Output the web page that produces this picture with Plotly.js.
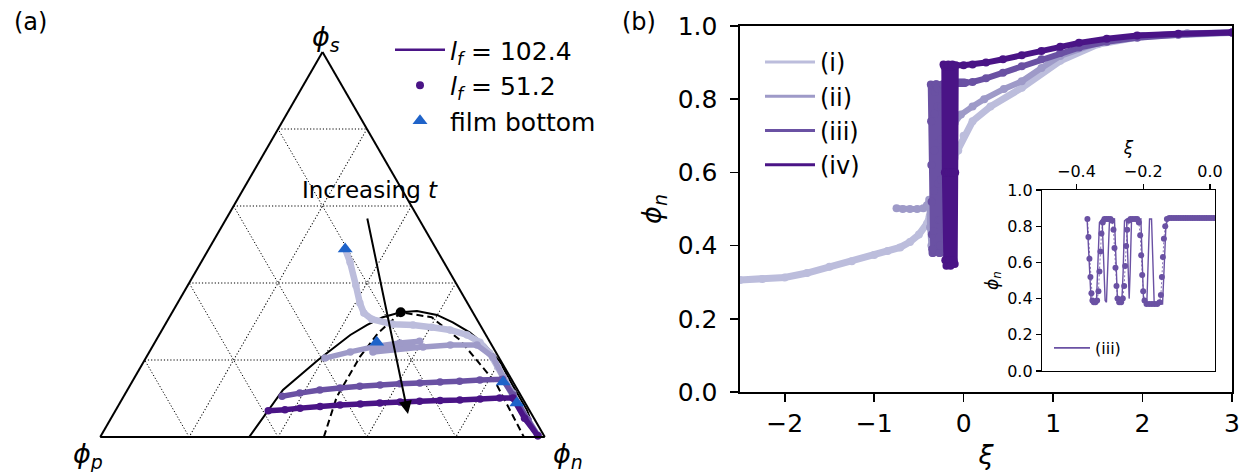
<!DOCTYPE html>
<html><head><meta charset="utf-8">
<script src="https://cdn.plot.ly/plotly-3.0.1.min.js"></script>
<style>html,body{margin:0;padding:0;background:#fff}</style>
</head><body>
<div id="chart" style="width:1243px;height:472px"></div>
<script>
// ---------- Panel (a): ternary compositions (phi_s, phi_n); phi_p = 1 - phi_s - phi_n ----------
const binodalS = [0, 0.122, 0.200, 0.265, 0.291, 0.311, 0.324, 0.327, 0.317, 0.298, 0.272, 0.239, 0.195, 0.135, 0.070, 0];
const binodalN = [0.335, 0.350, 0.390, 0.430, 0.455, 0.480, 0.514, 0.549, 0.599, 0.644, 0.695, 0.746, 0.802, 0.860, 0.925, 0.982];
const spinodalS = [0, 0.104, 0.208, 0.270, 0.311, 0.324, 0.311, 0.252, 0.140, 0];
const spinodalN = [0.503, 0.480, 0.480, 0.490, 0.509, 0.514, 0.590, 0.683, 0.820, 0.953];
const criticalS = [0.324];
const criticalN = [0.514];

const triS_i = [0.488, 0.454, 0.394, 0.348, 0.322, 0.306, 0.293, 0.291, 0.285, 0.278, 0.265, 0.246, 0.218, 0.182, 0.148, 0.096, 0.044, 0.005];
const triN_i = [0.307, 0.335, 0.378, 0.410, 0.432, 0.458, 0.511, 0.558, 0.603, 0.648, 0.693, 0.731, 0.767, 0.803, 0.836, 0.885, 0.940, 0.981];
const triS_ii = [0.205, 0.221, 0.236, 0.244, 0.249, 0.221, 0.234, 0.239, 0.239, 0.208, 0.156, 0.114, 0.044, 0.005];
const triN_ii = [0.403, 0.452, 0.504, 0.552, 0.594, 0.503, 0.609, 0.668, 0.728, 0.779, 0.828, 0.871, 0.940, 0.981];
const triS_iii = [0.106, 0.114, 0.122, 0.127, 0.132, 0.135, 0.138, 0.140, 0.143, 0.145, 0.148, 0.150, 0.109, 0.044, 0.003];
const triN_iii = [0.356, 0.392, 0.433, 0.476, 0.518, 0.562, 0.605, 0.649, 0.693, 0.736, 0.780, 0.830, 0.874, 0.940, 0.983];
const triS_iv = [0.068, 0.071, 0.075, 0.079, 0.083, 0.086, 0.088, 0.091, 0.093, 0.095, 0.096, 0.099, 0.101, 0.101, 0.049, 0.003];
const triN_iv = [0.344, 0.380, 0.412, 0.455, 0.498, 0.542, 0.585, 0.629, 0.672, 0.717, 0.761, 0.805, 0.848, 0.878, 0.930, 0.983];
const bottomS = [0.488, 0.246, 0.143, 0.088];
const bottomN = [0.307, 0.499, 0.835, 0.893];

// ---------- Panel (b): phi_n vs xi ----------
const xi_i = [-2.5, -2.25, -2.0, -1.75, -1.5, -1.25, -1.0, -0.85, -0.71, -0.6, -0.5, -0.41, -0.38, -0.3, -0.2, -0.1, -0.06, 0.0, 0.1, 0.3, 0.65, 1.08, 1.5, 2.0, 2.5, 3.0];
const phi_i = [0.306, 0.309, 0.313, 0.325, 0.342, 0.357, 0.374, 0.385, 0.395, 0.41, 0.43, 0.46, 0.48, 0.55, 0.60, 0.64, 0.66, 0.70, 0.74, 0.78, 0.831, 0.905, 0.95, 0.972, 0.979, 0.982];
const xi_ii = [-0.75, -0.68, -0.6, -0.52, -0.45, -0.41, -0.385, -0.375, -0.36, -0.33, -0.30, -0.26, -0.22, -0.17, -0.13, -0.1, -0.03, 0.1, 0.23, 0.45, 0.65, 0.87, 1.08, 1.5, 2.0, 2.5, 3.0];
const phi_ii = [0.502, 0.50, 0.50, 0.50, 0.502, 0.51, 0.525, 0.45, 0.40, 0.70, 0.42, 0.72, 0.42, 0.72, 0.45, 0.735, 0.758, 0.78, 0.80, 0.828, 0.849, 0.885, 0.918, 0.954, 0.973, 0.98, 0.982];
const xi_iii = [-0.368, -0.362, -0.356, -0.340, -0.336, -0.331, -0.323, -0.319, -0.314, -0.310, -0.306, -0.301, -0.286, -0.282, -0.277, -0.264, -0.260, -0.256, -0.250, -0.246, -0.242, -0.239, -0.235, -0.207, -0.203, -0.199, -0.189, -0.185, -0.181, -0.175, -0.171, -0.167, -0.142, -0.137, -0.132, -0.126, 0.0, 0.1, 0.25, 0.44, 0.65, 0.87, 1.08, 1.29, 1.6, 1.94, 2.4, 3.0];
const phi_iii = [0.84, 0.62, 0.39, 0.38, 0.55, 0.82, 0.84, 0.62, 0.39, 0.38, 0.55, 0.83, 0.84, 0.62, 0.39, 0.38, 0.55, 0.83, 0.84, 0.62, 0.40, 0.55, 0.83, 0.84, 0.62, 0.39, 0.38, 0.60, 0.84, 0.84, 0.60, 0.37, 0.37, 0.55, 0.80, 0.845, 0.845, 0.847, 0.857, 0.872, 0.89, 0.909, 0.926, 0.941, 0.957, 0.968, 0.976, 0.982];
const xiDots_iii = [-0.367, -0.364, -0.361, -0.358, -0.355, -0.352, -0.348, -0.343, -0.338, -0.334, -0.331, -0.328, -0.325, -0.321, -0.316, -0.310, -0.304, -0.298, -0.293, -0.289, -0.286, -0.283, -0.280, -0.277, -0.272, -0.266, -0.261, -0.257, -0.254, -0.251, -0.248, -0.244, -0.238, -0.231, -0.224, -0.218, -0.213, -0.209, -0.206, -0.203, -0.200, -0.196, -0.190, -0.182, -0.174, -0.166, -0.158, -0.151, -0.147, -0.144, -0.141, -0.138, -0.134, -0.129, -0.122, -0.115, -0.108, -0.101, -0.094, -0.087, -0.080, -0.073, -0.066, -0.059, -0.052, -0.045, -0.038, -0.031, -0.024, -0.017, -0.010, -0.003, 0.004, 0.011, 0.018, 0.1, 0.25, 0.44, 0.65, 0.87, 1.08, 1.29, 1.6, 1.94, 2.4, 3.0];
const phiDots_iii = [0.84, 0.74, 0.62, 0.52, 0.43, 0.39, 0.38, 0.38, 0.39, 0.44, 0.55, 0.66, 0.76, 0.82, 0.84, 0.84, 0.84, 0.84, 0.83, 0.78, 0.68, 0.57, 0.47, 0.40, 0.38, 0.38, 0.40, 0.47, 0.58, 0.69, 0.78, 0.83, 0.84, 0.84, 0.84, 0.84, 0.82, 0.75, 0.64, 0.53, 0.44, 0.39, 0.37, 0.37, 0.37, 0.37, 0.37, 0.38, 0.42, 0.52, 0.63, 0.73, 0.80, 0.84, 0.845, 0.845, 0.845, 0.845, 0.845, 0.845, 0.845, 0.845, 0.845, 0.845, 0.845, 0.845, 0.845, 0.845, 0.845, 0.845, 0.845, 0.845, 0.845, 0.845, 0.845, 0.847, 0.857, 0.872, 0.89, 0.909, 0.926, 0.941, 0.957, 0.968, 0.976, 0.982];
const xi_iv = [-0.225, -0.216, -0.210, -0.205, -0.192, -0.186, -0.180, -0.172, -0.166, -0.160, -0.146, -0.140, -0.134, -0.126, -0.120, -0.114, -0.100, -0.094, -0.088, 0.0, 0.1, 0.25, 0.44, 0.65, 0.87, 1.08, 1.29, 1.6, 1.94, 2.4, 3.0];
const phi_iv = [0.895, 0.89, 0.60, 0.36, 0.345, 0.60, 0.89, 0.895, 0.60, 0.36, 0.345, 0.60, 0.89, 0.895, 0.60, 0.36, 0.35, 0.60, 0.893, 0.893, 0.895, 0.90, 0.909, 0.92, 0.932, 0.943, 0.954, 0.965, 0.974, 0.979, 0.982];

const caseNames = ['(i)', '(ii)', '(iii)', '(iv)'];
const caseColors = ['#bcbddc', '#9e9ac8', '#6a51a3', '#4a1486'];
const bottomColor = '#1f63c9';
const cornerLabels = ['<i>ϕ</i><sub><i>s</i></sub>', '<i>ϕ</i><sub><i>p</i></sub>', '<i>ϕ</i><sub><i>n</i></sub>'];

// ---------- helpers ----------
const W = 1243, H = 472;
const px = v => v / W;
const py = v => 1 - v / H;
function tern(S, N, extra) {
  return Object.assign({
    type: 'scatterternary', subplot: 'ternary',
    a: S, b: S.map((s, k) => +(1 - s - N[k]).toFixed(4)), c: N,
    showlegend: false, hoverinfo: 'skip', cliponaxis: false
  }, extra);
}

const traces = [];
traces.push(tern(binodalS, binodalN, {mode: 'lines', line: {color: 'black', width: 2}}));
traces.push(tern(spinodalS, spinodalN, {mode: 'lines', line: {color: 'black', width: 2, dash: '7px,4px'}}));
const triS = [triS_i, triS_ii, triS_iii, triS_iv];
const triN = [triN_i, triN_ii, triN_iii, triN_iv];
for (let k = 0; k < 4; k++) {
  traces.push(tern(triS[k], triN[k], {mode: 'lines+markers', line: {color: caseColors[k], width: k === 0 ? 6.5 : 5.5}, marker: {color: caseColors[k], size: 7.5}}));
}
traces.push(tern(bottomS, bottomN, {mode: 'markers', marker: {symbol: 'triangle-up', color: bottomColor, size: 13}}));
traces.push(tern(criticalS, criticalN, {mode: 'markers', marker: {color: 'black', size: 10}}));

// panel (b) main
const xs = [xi_i, xi_ii, xi_iii, xi_iv];
const ys = [phi_i, phi_ii, phi_iii, phi_iv];
for (let k = 0; k < 4; k++) {
  traces.push({type: 'scatter', x: xs[k], y: ys[k], xaxis: 'x', yaxis: 'y', mode: k === 2 ? 'lines' : 'lines+markers',
    line: {color: caseColors[k], width: k === 0 ? 7 : 6}, marker: {color: caseColors[k], size: 8}, showlegend: false, hoverinfo: 'skip'});
  if (k === 2) {
    traces.push({type: 'scatter', x: xiDots_iii, y: phiDots_iii, xaxis: 'x', yaxis: 'y', mode: 'markers',
      marker: {color: caseColors[2], size: 8}, showlegend: false, hoverinfo: 'skip'});
  }
}
// inset
traces.push({type: 'scatter', x: xi_iii, y: phi_iii, xaxis: 'x2', yaxis: 'y2', mode: 'lines',
  line: {color: caseColors[2], width: 1.4}, showlegend: false, hoverinfo: 'skip'});
traces.push({type: 'scatter', x: xiDots_iii, y: phiDots_iii, xaxis: 'x2', yaxis: 'y2', mode: 'lines+markers',
  line: {color: caseColors[2], width: 0.8, dash: '2px,2px'}, marker: {color: caseColors[2], size: 6}, showlegend: false, hoverinfo: 'skip'});

// legend entries
traces.push({type: 'scatter', x: [null], y: [null], xaxis: 'x', yaxis: 'y', mode: 'lines', line: {color: caseColors[3], width: 2.5},
  name: '<i>l</i><sub><i>f</i></sub> = 102.4', legend: 'legend'});
traces.push({type: 'scatter', x: [null], y: [null], xaxis: 'x', yaxis: 'y', mode: 'markers', marker: {color: caseColors[3], size: 8},
  name: '<i>l</i><sub><i>f</i></sub> = 51.2', legend: 'legend'});
traces.push({type: 'scatter', x: [null], y: [null], xaxis: 'x', yaxis: 'y', mode: 'markers', marker: {color: bottomColor, size: 13, symbol: 'triangle-up'},
  name: 'film bottom', legend: 'legend'});
for (let k = 0; k < 4; k++) {
  traces.push({type: 'scatter', x: [null], y: [null], xaxis: 'x', yaxis: 'y', mode: 'lines', line: {color: caseColors[k], width: 3},
    name: caseNames[k], legend: 'legend2'});
}
traces.push({type: 'scatter', x: [null], y: [null], xaxis: 'x2', yaxis: 'y2', mode: 'lines', line: {color: caseColors[2], width: 1.6},
  name: caseNames[2], legend: 'legend3'});

const ternAxis = {
  title: {text: ''}, showticklabels: false, ticks: '', linecolor: 'black', linewidth: 2,
  showgrid: true, gridcolor: '#000', gridwidth: 1, griddash: '1.2px,2px', tick0: 0, dtick: 0.2, min: 0
};
const cartAxis = {ticks: 'outside', ticklen: 8, tickwidth: 1.6, linecolor: 'black', linewidth: 1.6, mirror: true,
  showgrid: false, zeroline: false, tickcolor: 'black'};

const ann = (text, x, y, size, extra) => Object.assign({text: text, xref: 'paper', yref: 'paper', x: px(x), y: py(y),
  xanchor: 'center', yanchor: 'middle', showarrow: false, font: {size: size}}, extra || {});

const layout = {
  width: W, height: H, margin: {l: 0, r: 0, t: 0, b: 0},
  paper_bgcolor: 'white', plot_bgcolor: 'white',
  font: {family: 'DejaVu Sans', color: 'black', size: 20},
  ternary: {
    domain: {x: [px(100), px(545)], y: [py(437), py(52)]}, sum: 1, bgcolor: 'white',
    aaxis: ternAxis, baxis: ternAxis, caxis: ternAxis
  },
  xaxis: Object.assign({}, cartAxis, {domain: [px(740), px(1232)], range: [-2.5, 3], anchor: 'y',
    tickvals: [-2, -1, 0, 1, 2, 3], tickfont: {size: 25}, ticklabelstandoff: 0,
    title: {text: '<i>ξ</i>', font: {size: 27}, standoff: 8}}),
  yaxis: Object.assign({}, cartAxis, {domain: [py(392), py(26)], range: [0, 1], anchor: 'x',
    tickvals: [0, 0.2, 0.4, 0.6, 0.8, 1.0], tickformat: '.1f', tickfont: {size: 25}, ticklabelstandoff: 8,
    title: {text: '<i>ϕ</i><sub><i>n</i></sub>', font: {size: 27}, standoff: 8}}),
  xaxis2: Object.assign({}, cartAxis, {domain: [px(1042), px(1215)], range: [-0.503, 0.015], anchor: 'y2', side: 'top',
    tickvals: [-0.4, -0.2, 0.0], tickformat: '.1f', tickfont: {size: 16}, ticklen: 5, tickwidth: 1.2, linewidth: 1.2,
    title: {text: '<i>ξ</i>', font: {size: 17}, standoff: 3}}),
  yaxis2: Object.assign({}, cartAxis, {domain: [py(371), py(190)], range: [0, 1], anchor: 'x2',
    tickvals: [0, 0.2, 0.4, 0.6, 0.8, 1.0], tickformat: '.1f', tickfont: {size: 16}, ticklen: 5, tickwidth: 1.2, linewidth: 1.2,
    title: {text: '<i>ϕ</i><sub><i>n</i></sub>', font: {size: 17}, standoff: 4}}),
  legend: {x: px(390), y: py(27), xanchor: 'left', yanchor: 'top', font: {size: 25}, bgcolor: 'rgba(0,0,0,0)', itemwidth: 50},
  legend2: {x: px(760), y: py(40), xanchor: 'left', yanchor: 'top', font: {size: 24}, bgcolor: 'rgba(0,0,0,0)', itemwidth: 50},
  legend3: {x: px(1049), y: py(331), xanchor: 'left', yanchor: 'top', font: {size: 16}, bgcolor: 'rgba(0,0,0,0)', itemwidth: 36},
  annotations: [
    ann('(a)', 30, 22, 24),
    ann('(b)', 639, 22, 24),
    ann(cornerLabels[0], 326, 38, 27),
    ann(cornerLabels[1], 88, 455, 27),
    ann(cornerLabels[2], 568, 455, 27),
    ann('Increasing <i>t</i>', 370, 190, 23),
    {text: '', xref: 'paper', yref: 'paper', x: px(408), y: py(414), ax: -41, ay: -197, showarrow: true,
      arrowhead: 2, arrowsize: 1.3, arrowwidth: 2, arrowcolor: 'black'}
  ]
};

Plotly.newPlot('chart', traces, layout, {staticPlot: true, displayModeBar: false});
</script></body></html>
